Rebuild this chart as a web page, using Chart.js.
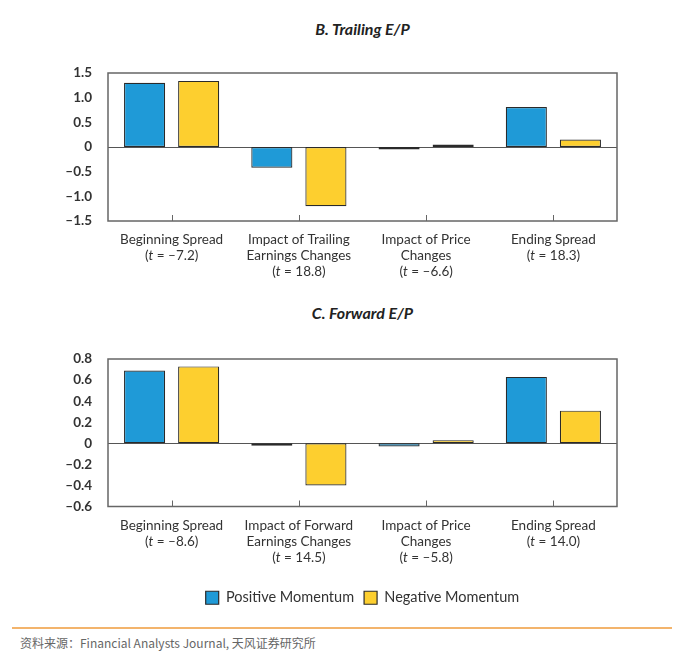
<!DOCTYPE html>
<html>
<head>
<meta charset="utf-8">
<script src="https://cdn.jsdelivr.net/npm/chart.js@4.4.1/dist/chart.umd.min.js"></script>
<style>
  body { margin: 0; background: #fff; font-family: Lato, "Noto Sans", sans-serif; }
  #page { position: relative; width: 698px; height: 670px; overflow: hidden; }
  .title { position: absolute; left: 108px; width: 509px; text-align: center;
           font: italic 700 16px Lato, sans-serif; color: #222; }
  .box { position: absolute; left: 0; width: 698px; }
  #rule { position: absolute; left: 12px; width: 660px; top: 627px; height: 2px;
          background: #f3b46c; }
  #source { position: absolute; left: 20px; top: 634px; font: 12px "Noto Sans CJK SC", "Noto Sans", sans-serif; color: #666; }
</style>
</head>
<body>
<div id="page">
  <div class="title" style="top:19px">B. Trailing E/P</div>
  <div class="box" style="top:0; height:300px"><canvas id="chartB" width="698" height="300"></canvas></div>
  <div class="title" style="top:303px">C. Forward E/P</div>
  <div class="box" style="top:300px; height:315px"><canvas id="chartC" width="698" height="315"></canvas></div>
  <div id="rule"></div>
  <div id="source">资料来源：Financial Analysts Journal, 天风证券研究所</div>
</div>
<script>
// ---------------- Data ----------------
const seriesNames = ["Positive Momentum", "Negative Momentum"];

const categoriesB = [
    ["Beginning Spread", "(t = –7.2)"],
    ["Impact of Trailing", "Earnings Changes", "(t = 18.8)"],
    ["Impact of Price", "Changes", "(t = –6.6)"],
    ["Ending Spread", "(t = 18.3)"]
];
const positiveB = [1.30, -0.42, -0.02, 0.81];
const negativeB = [1.34, -1.20, 0.03, 0.15];
const yTicksB = [1.5, 1.0, 0.5, 0, -0.5, -1.0, -1.5];

const categoriesC = [
    ["Beginning Spread", "(t = –8.6)"],
    ["Impact of Forward", "Earnings Changes", "(t = 14.5)"],
    ["Impact of Price", "Changes", "(t = –5.8)"],
    ["Ending Spread", "(t = 14.0)"]
];
const positiveC = [0.69, -0.01, -0.03, 0.63];
const negativeC = [0.73, -0.40, 0.03, 0.31];
const yTicksC = [0.8, 0.6, 0.4, 0.2, 0, -0.2, -0.4, -0.6];

const blue = "#1f9ad7";
const yellow = "#fdcf2f";
const ink = "#333";

// ---------------- Plugins ----------------
// frame around the plot, zero line and inner ticks at the category centres
const framePlugin = {
    id: "frame",
    beforeDatasetsDraw(chart) {
        const { ctx, chartArea: a, scales: { y } } = chart;
        ctx.save();
        ctx.strokeStyle = "#555";
        ctx.lineWidth = 1;
        const y0 = Math.round(y.getPixelForValue(0)) + 0.5;
        ctx.beginPath();
        ctx.moveTo(a.left, y0);
        ctx.lineTo(a.right, y0);
        ctx.stroke();
        ctx.restore();
    },
    afterDatasetsDraw(chart) {
        const { ctx, chartArea: a, scales: { x } } = chart;
        ctx.save();
        ctx.strokeStyle = "#666";
        ctx.lineWidth = 1.5;
        ctx.strokeRect(a.left, a.top, a.right - a.left, a.bottom - a.top);
        ctx.lineWidth = 1;
        x.ticks.forEach((t, i) => {
            const px = Math.round(x.getPixelForTick(i)) + 0.5;
            ctx.beginPath();
            ctx.moveTo(px, a.bottom);
            ctx.lineTo(px, a.bottom - 6);
            ctx.stroke();
        });
        ctx.restore();
    }
};

// category labels, with the "t" set in italics
const labelPlugin = {
    id: "catLabels",
    afterDraw(chart) {
        const { ctx, chartArea: a, scales: { x } } = chart;
        const regular = "13.5px Lato, sans-serif";
        const italic = "italic 13.5px Lato, sans-serif";
        ctx.save();
        ctx.fillStyle = ink;
        ctx.textBaseline = "middle";
        ctx.textAlign = "left";
        chart.data.labels.forEach((lines, i) => {
            const cx = x.getPixelForTick(i);
            lines.forEach((line, k) => {
                const ly = a.bottom + 19 + k * 16;
                const parts = line.startsWith("(t") ? ["(", "t", line.slice(2)] : [line];
                const fonts = parts.length > 1 ? [regular, italic, regular] : [regular];
                let w = 0;
                parts.forEach((p, j) => { ctx.font = fonts[j]; w += ctx.measureText(p).width; });
                let px = cx - w / 2;
                parts.forEach((p, j) => {
                    ctx.font = fonts[j];
                    ctx.fillText(p, px, ly);
                    px += ctx.measureText(p).width;
                });
            });
        });
        ctx.restore();
    }
};

function fmt(v) {
    if (v === 0) return "0";
    return (v < 0 ? "–" : "") + Math.abs(v).toFixed(1);
}

// ---------------- Charts ----------------
function makeChart(id, labels, pos, neg, ticks, padTop, xHeight, showLegend) {
    return new Chart(document.getElementById(id).getContext("2d"), {
        type: "bar",
        data: {
            labels: labels,
            datasets: [
                { label: seriesNames[0], data: pos, backgroundColor: blue, borderColor: "#2a2a2a", borderWidth: 1.2, borderSkipped: false },
                { label: seriesNames[1], data: neg, backgroundColor: yellow, borderColor: "#2a2a2a", borderWidth: 1.2, borderSkipped: false }
            ]
        },
        options: {
            responsive: false,
            animation: false,
            layout: { padding: { top: padTop, left: 58, right: 81, bottom: 0 } },
            datasets: { bar: { categoryPercentage: 0.85, barPercentage: 0.76, minBarLength: 2.5 } },
            plugins: {
                tooltip: { enabled: false },
                legend: {
                    display: showLegend,
                    position: "bottom",
                    fullSize: false,
                    labels: {
                        boxWidth: 13, boxHeight: 13, padding: 10, color: ink,
                        font: { family: "Lato", size: 14.5 }
                    }
                }
            },
            scales: {
                x: {
                    grid: { display: false },
                    border: { display: false },
                    ticks: { display: false },
                    afterFit: s => { s.height = xHeight; }
                },
                y: {
                    min: ticks[ticks.length - 1],
                    max: ticks[0],
                    afterBuildTicks: s => { s.ticks = ticks.map(v => ({ value: v })); },
                    afterFit: s => { s.width = 50; },
                    grid: { display: false },
                    border: { display: false },
                    ticks: {
                        color: ink,
                        padding: 8,
                        font: { family: "Lato", size: 13.5, weight: "bold" },
                        callback: v => fmt(v)
                    }
                }
            }
        },
        plugins: [framePlugin, labelPlugin]
    });
}

makeChart("chartB", categoriesB, positiveB, negativeB, yTicksB, 73, 79, false);
makeChart("chartC", categoriesC, positiveC, negativeC, yTicksC, 59, 74, true);
</script>
</body>
</html>
